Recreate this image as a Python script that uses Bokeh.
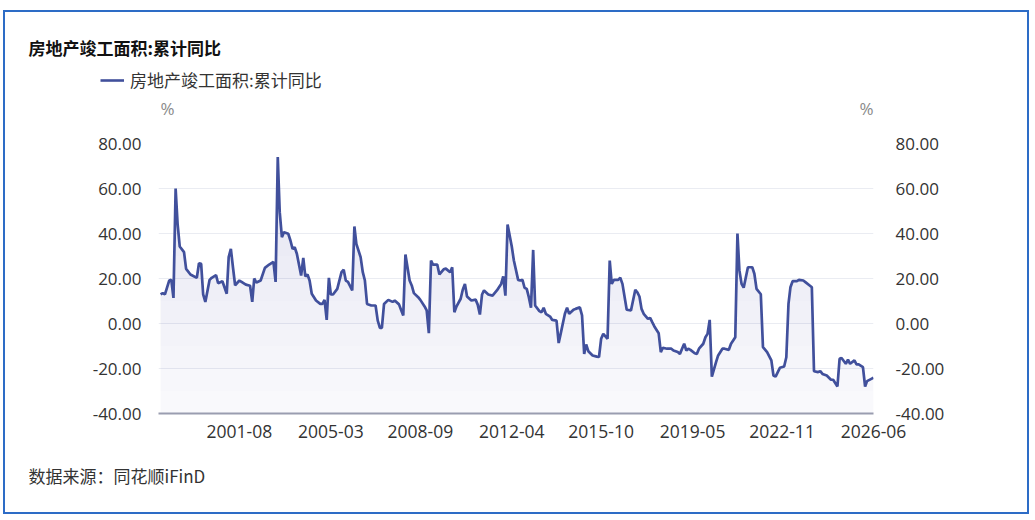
import numpy as np
import pandas as pd
from bokeh.plotting import figure
from bokeh.layouts import column
from bokeh.core.properties import value
from bokeh.models import (Range1d, LinearAxis, FixedTicker, NumeralTickFormatter,
                          DatetimeTickFormatter, Legend, LegendItem, ColumnDataSource)
from bokeh.embed import file_html
from bokeh.resources import INLINE

title_text = "房地产竣工面积:累计同比"
series_name = "房地产竣工面积:累计同比"
source_text = "数据来源：同花顺iFinD"
unit_text = "%"

months = [
    "1998-07", "1998-08", "1998-09", "1998-11", "1998-12", "1999-01", "1999-02", "1999-03", "1999-04", "1999-06",
    "1999-07", "1999-09", "1999-12", "2000-01", "2000-02", "2000-03", "2000-04", "2000-06", "2000-07", "2000-09",
    "2000-10", "2000-12", "2001-02", "2001-03", "2001-04", "2001-05", "2001-06", "2001-08", "2001-09", "2001-11",
    "2002-01", "2002-02", "2002-03", "2002-04", "2002-06", "2002-08", "2002-10", "2002-12", "2003-01", "2003-02",
    "2003-03", "2003-04", "2003-05", "2003-07", "2003-08", "2003-09", "2003-10", "2003-11", "2004-01", "2004-02",
    "2004-03", "2004-04", "2004-05", "2004-06", "2004-08", "2004-10", "2004-11", "2004-12", "2005-01", "2005-02",
    "2005-03", "2005-04", "2005-06", "2005-08", "2005-09", "2005-10", "2005-11", "2006-01", "2006-02", "2006-03",
    "2006-05", "2006-06", "2006-07", "2006-08", "2006-10", "2006-12", "2007-01", "2007-02", "2007-03", "2007-04",
    "2007-06", "2007-08", "2007-09", "2007-11", "2007-12", "2008-01", "2008-02", "2008-04", "2008-05", "2008-06",
    "2008-08", "2008-09", "2008-11", "2008-12", "2009-01", "2009-02", "2009-03", "2009-05", "2009-06", "2009-08",
    "2009-09", "2009-11", "2009-12", "2010-01", "2010-02", "2010-04", "2010-05", "2010-06", "2010-07", "2010-09",
    "2010-11", "2010-12", "2011-01", "2011-02", "2011-03", "2011-05", "2011-07", "2011-09", "2011-11", "2011-12",
    "2012-01", "2012-02", "2012-04", "2012-05", "2012-07", "2012-08", "2012-09", "2012-10", "2012-11", "2012-12",
    "2013-01", "2013-02", "2013-03", "2013-05", "2013-06", "2013-07", "2013-08", "2013-10", "2013-11", "2014-01",
    "2014-02", "2014-03", "2014-05", "2014-06", "2014-07", "2014-09", "2014-10", "2014-12", "2015-01", "2015-02",
    "2015-03", "2015-04", "2015-06", "2015-08", "2015-09", "2015-10", "2015-11", "2016-01", "2016-02", "2016-03",
    "2016-04", "2016-06", "2016-07", "2016-08", "2016-10", "2016-12", "2017-02", "2017-03", "2017-04", "2017-05",
    "2017-06", "2017-08", "2017-09", "2017-10", "2017-11", "2018-01", "2018-02", "2018-03", "2018-05", "2018-07",
    "2018-08", "2018-10", "2018-11", "2019-01", "2019-02", "2019-03", "2019-04", "2019-06", "2019-07", "2019-08",
    "2019-10", "2019-11", "2019-12", "2020-01", "2020-02", "2020-04", "2020-05", "2020-07", "2020-08", "2020-10",
    "2020-11", "2021-01", "2021-02", "2021-03", "2021-04", "2021-05", "2021-07", "2021-09", "2021-10", "2021-11",
    "2022-01", "2022-02", "2022-04", "2022-06", "2022-07", "2022-08", "2022-09", "2022-10", "2022-12", "2023-01",
    "2023-02", "2023-03", "2023-04", "2023-06", "2023-07", "2023-09", "2023-10", "2023-12", "2024-01", "2024-02",
    "2024-04", "2024-05", "2024-06", "2024-08", "2024-10", "2024-11", "2025-01", "2025-02", "2025-03", "2025-05",
    "2025-06", "2025-07", "2025-09", "2025-10", "2025-11", "2026-01", "2026-02", "2026-03", "2026-05", "2026-06",
]

values = [
    12.9, 13.5, 12.9, 19.1, 19.4, 11.4, 60.0, 44.3, 34.2, 31.7,
    24.3, 21.8, 20.3, 26.8, 26.5, 12.9, 9.6, 19.4, 20.3, 21.5,
    17.9, 18.8, 13.2, 29.5, 33.2, 25.0, 17.0, 19.1, 18.5, 17.3,
    16.8, 9.6, 20.0, 18.2, 19.1, 24.7, 26.2, 27.4, 18.5, 74.0,
    49.5, 38.4, 40.6, 39.9, 36.9, 33.2, 33.9, 31.0, 21.3, 29.2,
    20.9, 21.8, 19.1, 13.2, 10.2, 8.7, 8.7, 10.5, 1.6, 20.3,
    12.9, 12.9, 15.4, 22.8, 23.9, 19.1, 18.5, 14.7, 43.1, 35.4,
    29.5, 22.8, 19.1, 8.7, 8.0, 8.0, 1.3, -1.9, -1.9, 8.7,
    10.5, 9.6, 10.2, 8.5, 6.0, 3.6, 30.7, 19.1, 16.9, 13.5,
    11.7, 10.5, 7.6, 5.8, -4.3, 28.0, 26.2, 26.2, 21.8, 24.1,
    24.4, 22.8, 25.0, 5.0, 7.6, 11.0, 15.0, 17.6, 12.0, 10.2,
    10.6, 8.4, 4.0, 12.9, 14.7, 12.9, 12.4, 14.7, 17.6, 20.9,
    12.4, 44.0, 34.2, 28.0, 19.4, 19.1, 19.4, 15.9, 15.4, 11.7,
    7.0, 32.7, 8.0, 5.5, 5.0, 7.0, 4.3, 3.1, 1.6, 1.3,
    -8.7, -4.6, 4.3, 7.0, 4.3, 6.1, 6.5, 7.2, 3.6, -13.5,
    -9.3, -12.3, -14.2, -14.7, -14.9, -6.8, -4.6, -6.8, 28.0, 17.6,
    19.4, 19.4, 20.3, 17.6, 6.1, 5.8, 15.0, 13.9, 12.0, 6.5,
    4.3, 2.1, 2.5, 0.6, -1.3, -4.3, -12.7, -10.8, -11.2, -11.2,
    -12.0, -12.7, -13.5, -9.0, -12.0, -11.2, -11.7, -13.2, -13.5, -11.2,
    -9.0, -6.1, -4.6, 1.6, -23.6, -17.2, -14.2, -11.2, -11.2, -11.7,
    -9.0, -6.1, 40.0, 23.6, 17.6, 15.9, 25.0, 25.0, 22.1, 15.4,
    13.0, -10.5, -12.7, -16.4, -23.1, -23.6, -21.6, -19.7, -19.1, -15.0,
    8.7, 16.1, 18.8, 18.8, 19.4, 19.1, 18.4, 16.9, 16.1, -21.2,
    -21.6, -21.2, -22.4, -23.1, -25.0, -25.0, -28.0, -15.7, -15.3, -17.9,
    -16.1, -17.9, -16.4, -18.2, -18.2, -19.4, -28.0, -25.6, -24.6, -24.1,
]

x_tick_labels = ["2001-08", "2005-03", "2008-09", "2012-04", "2015-10", "2019-05", "2022-11", "2026-06"]
x_start, x_end = "1998-06", "2026-06"
y_ticks = [-40, -20, 0, 20, 40, 60, 80]
y_min, y_max = -40, 80

LINE = "#41509c"
FILL = "#4a5aa8"
TXT = "#333333"
FONT = "Open Sans"
CJK = "Noto Sans CJK SC"
W = 1022


def to_ms(s):
    d = pd.to_datetime(pd.Series(s), format="%Y-%m")
    return ((d - pd.Timestamp("1970-01-01")) // pd.Timedelta(milliseconds=1)).tolist()


def blank(height):
    f = figure(output_backend="svg", toolbar_location=None,
               frame_width=W, frame_height=height, frame_align=False,
               min_border=0, x_range=Range1d(0, W), y_range=Range1d(height, 0),
               x_axis_location=None, y_axis_location=None,
               background_fill_color="white", border_fill_color="white")
    f.grid.visible = False
    f.outline_line_color = None
    return f


# ---------- header: title, legend, units ----------
HH = 115
header = blank(HH)
header.text(x=[23], y=[35], text=[title_text], text_font=value(CJK), text_font_size="17px",
            text_font_style="bold", text_color="#111111", text_baseline="middle")
header.text(x=[162, 861], y=[96, 96], text=[unit_text, unit_text], text_font=value(FONT),
            text_font_size="17px", text_color="#8a8a8a", text_align="center", text_baseline="middle")
dummy = header.line(x=[np.nan], y=[np.nan], line_color=LINE, line_width=2.6)
legend = Legend(items=[LegendItem(label=series_name, renderers=[dummy])], location=(95, 35),
                label_text_font=CJK, label_text_font_size="17px", label_text_color=TXT,
                glyph_width=24, glyph_height=20, label_standoff=6, padding=0, margin=0,
                border_line_color=None, background_fill_alpha=0)
header.add_layout(legend, "center")

# ---------- main chart ----------
dates = pd.to_datetime(pd.Series(months), format="%Y-%m")
vals = np.array(values, dtype=float)
src = ColumnDataSource(dict(date=dates, value=vals))

xs, xe = to_ms([x_start, x_end])
p = figure(x_axis_type="datetime", output_backend="svg", toolbar_location=None,
           frame_width=715, frame_height=270, frame_align=False,
           min_border_left=153, min_border_right=154, min_border_top=16, min_border_bottom=45,
           x_range=Range1d(xs, xe), y_range=Range1d(y_min, y_max),
           background_fill_color="white", border_fill_color="white")
p.outline_line_color = None

# gradient-like area fill
p.varea(x=dates, y1=y_min, y2=vals, fill_color=FILL, fill_alpha=0.035)
for t in range(-30, 80, 10):
    p.varea(x=dates, y1=t, y2=np.maximum(vals, t), fill_color=FILL, fill_alpha=0.011)

r = p.line(x="date", y="value", source=src, line_color=LINE, line_width=2.7)

p.xaxis.ticker = FixedTicker(ticks=to_ms(x_tick_labels))
p.xaxis.formatter = DatetimeTickFormatter(years="%Y-%m", months="%Y-%m", days="%Y-%m",
                                          hours="%Y-%m", strip_leading_zeros=False)
p.xaxis.axis_line_color = "#9a9db0"
p.xaxis.axis_line_width = 2
p.xaxis.major_tick_line_color = None
p.xaxis.minor_tick_line_color = None
p.xaxis.major_label_standoff = 5
p.xaxis.major_label_text_font = FONT
p.xaxis.major_label_text_font_size = "17.5px"
p.xaxis.major_label_text_color = TXT

yr = LinearAxis()
p.add_layout(yr, "right")
for ax in (p.yaxis[0], yr):
    ax.ticker = FixedTicker(ticks=y_ticks)
    ax.formatter = NumeralTickFormatter(format="0.00")
    ax.axis_line_color = None
    ax.major_tick_line_color = None
    ax.minor_tick_line_color = None
    ax.major_label_text_font = FONT
    ax.major_label_text_font_size = "17px"
    ax.major_label_text_color = TXT
p.yaxis[0].major_label_standoff = 11
yr.major_label_standoff = 16

p.xgrid.visible = False
p.ygrid.ticker = FixedTicker(ticks=y_ticks)
p.ygrid.grid_line_color = "#eaecf2"
p.ygrid.grid_line_width = 1

# ---------- footer: source ----------
FH = 54
footer = blank(FH)
footer.text(x=[23], y=[17], text=[source_text], text_font=value(CJK), text_font_size="17px",
            text_color=TXT, text_baseline="middle")

layout = column(header, p, footer, spacing=0,
                styles={"border": "2px solid #2d6cc6", "margin-left": "3px", "margin-top": "10px"})

open("out.html", "w").write(file_html(layout, INLINE))
